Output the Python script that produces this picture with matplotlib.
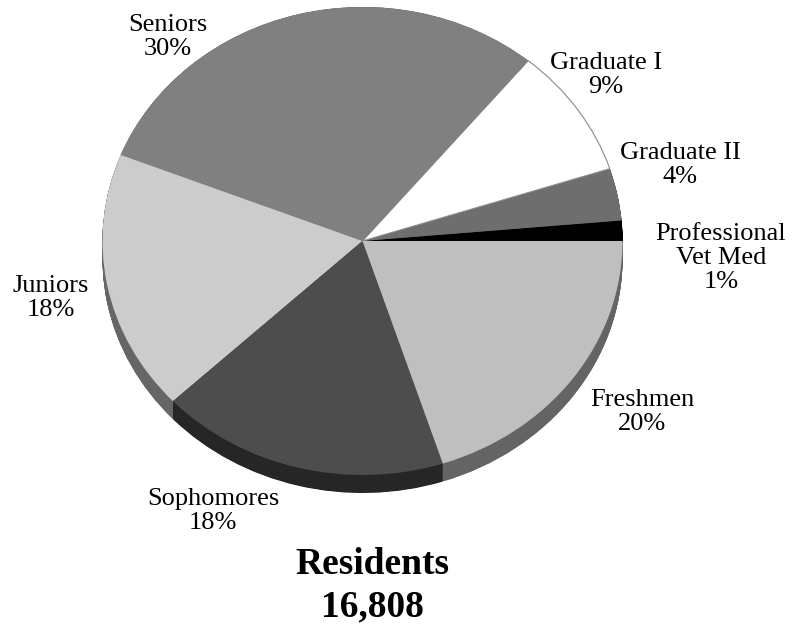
import matplotlib
matplotlib.use("Agg")
import matplotlib.pyplot as plt
import numpy as np

# Daten (gegen den Uhrzeigersinn ab 3 Uhr)
categories = ["Professional\nVet Med", "Graduate II", "Graduate I", "Seniors",
              "Juniors", "Sophomores", "Freshmen"]
shares = [1.4, 3.6, 9.0, 30.0, 18.0, 18.0, 20.0]
pct_labels = ["1%", "4%", "9%", "30%", "18%", "18%", "20%"]
top_colors = ["#000000", "#6e6e6e", "#ffffff", "#808080",
              "#cccccc", "#4d4d4d", "#bfbfbf"]
side_colors = ["#000000", "#404040", "#999999", "#4d4d4d",
               "#666666", "#262626", "#646464"]
title_text = "Residents\n16,808"

# Label-Positionen in Pixeln (x, y von oben)
label_pos = [(721, 258), (680, 165), (606, 75), (168, 37),
             (51, 298), (213, 511), (642, 412)]

W, H = 793, 626
CX, CY = 362.5, 241.0      # Mittelpunkt in Pixeln
RX, RY = 260.0, 234.0      # Halbachsen
DEPTH = 18.0               # Seitenhöhe in Pixeln

plt.rcParams["font.family"] = ["Liberation Serif", "DejaVu Serif"]

fig = plt.figure(figsize=(W / 100, H / 100), dpi=100)
ax = fig.add_axes([0, 0, 1, 1])

# Seitenwand: gestapelte, nach unten versetzte Torten
depth_units = DEPTH / RY
for off in np.linspace(depth_units, 0.0, 40):
    ax.pie(shares, colors=side_colors, startangle=0, counterclock=True,
           center=(0, -off), radius=1.0, normalize=True,
           wedgeprops=dict(linewidth=0, antialiased=True))

# Oberseite
wedges, _ = ax.pie(shares, colors=top_colors, startangle=0, counterclock=True,
                   center=(0, 0), radius=1.0, normalize=True,
                   wedgeprops=dict(linewidth=0))
# weisses Stueck bekommt eine feine graue Kante
wedges[2].set_edgecolor("#8c8c8c")
wedges[2].set_linewidth(0.8)

ax.set_aspect("auto")
ax.set_xlim(-CX / RX, (W - CX) / RX)
ax.set_ylim(-(H - CY) / RY, CY / RY)
ax.axis("off")

for name, pct, (px, py) in zip(categories, pct_labels, label_pos):
    fig.text(px / W, 1 - py / H, name + "\n" + pct, ha="center", va="center",
             multialignment="center", fontsize=19, linespacing=1.12)

fig.text(372 / W, 1 - 586 / H, title_text, ha="center", va="center",
         multialignment="center", fontsize=27, fontweight="bold",
         linespacing=1.28)

fig.savefig("out.png", dpi=100)
